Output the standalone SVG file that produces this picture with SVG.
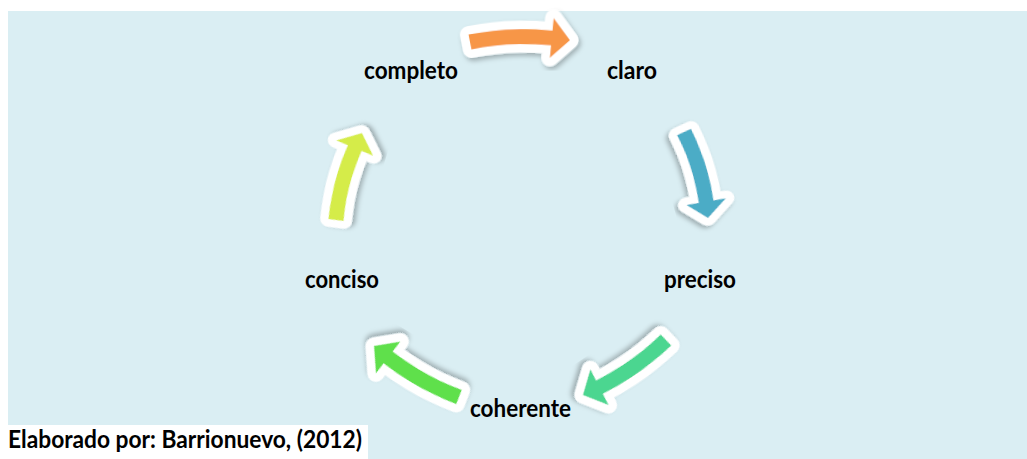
<svg xmlns="http://www.w3.org/2000/svg" xmlns:xlink="http://www.w3.org/1999/xlink" width="1027" height="459" viewBox="0 0 1027 459">
<style>
.lbl{font-family:"Lato","Open Sans","Liberation Sans",sans-serif;font-weight:700;font-size:24px;fill:#000}
.arrow{stroke:#fff;stroke-width:17;stroke-linejoin:round;paint-order:stroke}
</style>
<defs>
<filter id="sh" x="-30%" y="-30%" width="160%" height="160%">
<feDropShadow dx="2" dy="3" stdDeviation="2.5" flood-color="#000" flood-opacity="0.28"/>
</filter>
<path id="arw" class="arrow" d="M -1.34 -7.38 A 287.5 287.5 0 0 1 82.37 -10.12 L 83.78 -22.54 L 99.64 0 L 79.25 17.20 L 80.67 4.78 A 272.5 272.5 0 0 0 1.33 7.38 Z"/>
</defs>
<rect x="8" y="11" width="1019" height="448" fill="#DAEEF3"/>
<g id="connectors">
<use xlink:href="#arw" href="#arw" fill="#F79646" filter="url(#sh)" transform="translate(470,42) rotate(-1) scale(1.0036,1)"/>
<use xlink:href="#arw" href="#arw" fill="#4BACC6" filter="url(#sh)" transform="translate(684,132) rotate(74.4) scale(0.896,1)"/>
<use xlink:href="#arw" href="#arw" fill="#4CD690" filter="url(#sh)" transform="translate(666,340) rotate(146.5) scale(1,1)"/>
<use xlink:href="#arw" href="#arw" fill="#5EE04C" filter="url(#sh)" transform="translate(459,397) rotate(211) scale(0.995,1)"/>
<use xlink:href="#arw" href="#arw" fill="#D5EC48" filter="url(#sh)" transform="translate(336,220) rotate(-73.4) scale(0.911,1)"/>
</g>
<g id="node-completo"><text class="lbl" x="411" y="79" text-anchor="middle" textLength="94" lengthAdjust="spacingAndGlyphs">completo</text></g>
<g id="node-claro"><text class="lbl" x="632" y="79" text-anchor="middle" textLength="50" lengthAdjust="spacingAndGlyphs">claro</text></g>
<g id="node-preciso"><text class="lbl" x="700" y="288" text-anchor="middle" textLength="72" lengthAdjust="spacingAndGlyphs">preciso</text></g>
<g id="node-coherente"><text class="lbl" x="520.5" y="417" text-anchor="middle" textLength="101" lengthAdjust="spacingAndGlyphs">coherente</text></g>
<g id="node-conciso"><text class="lbl" x="342" y="288" text-anchor="middle" textLength="74" lengthAdjust="spacingAndGlyphs">conciso</text></g>
<g id="caption">
<rect x="0" y="425" width="368" height="34" fill="#fff"/>
<text class="lbl" x="8" y="448" textLength="354" lengthAdjust="spacingAndGlyphs">Elaborado por: Barrionuevo, (2012)</text>
</g>
</svg>
